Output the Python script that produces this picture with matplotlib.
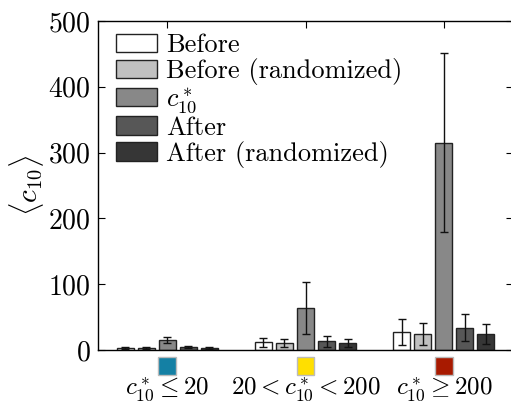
import numpy as np
import matplotlib
matplotlib.use("Agg")
import matplotlib.pyplot as plt
from matplotlib.patches import Rectangle

plt.rcParams['font.family'] = 'serif'
plt.rcParams['font.serif'] = ['cmr10']
plt.rcParams['mathtext.fontset'] = 'cm'
plt.rcParams['axes.formatter.use_mathtext'] = True

groups = [r'$c^*_{10} \leq 20$', r'$20 < c^*_{10} < 200$', r'$c^*_{10} \geq 200$']
group_colors = ['#1480a4', '#ffdf00', '#a81a00']
series = ['Before', 'Before (randomized)', r'$c^*_{10}$', 'After', 'After (randomized)']
series_colors = ['#ffffff', '#c0c0c0', '#888888', '#575757', '#363636']

before = [3, 11.5, 27]
before_err = [1.5, 7, 19.5]
before_rand = [3, 10.5, 24]
before_rand_err = [1.5, 6, 17]
cstar = [15, 64, 315]
cstar_err = [4, 40, 136]
after = [4, 13, 34]
after_err = [1.5, 8, 20]
after_rand = [3, 11, 24]
after_rand_err = [1.5, 6, 15]

vals = [before, before_rand, cstar, after, after_rand]
errs = [before_err, before_rand_err, cstar_err, after_err, after_rand_err]

fig = plt.figure(figsize=(5.11, 4.05), dpi=100)
ax = fig.add_axes([98/511, 1-350/405, (513-98)/511, (350-21)/405])

x = np.arange(1, len(groups)+1)
pitch = 0.152
width = 0.123
for i, (v, e, c, lab) in enumerate(zip(vals, errs, series_colors, series)):
    xs = x + (i-2)*pitch
    ax.bar(xs, v, width, color=c, edgecolor='#222222', linewidth=1.0, label=lab, zorder=2)
    ax.errorbar(xs, v, yerr=e, fmt='none', ecolor='#111111', elinewidth=1.0,
                capsize=3, capthick=1.0, zorder=3)

ax.set_xlim(0.5, 3.5)
ax.set_ylim(0, 500)
ax.set_yticks([0, 100, 200, 300, 400, 500])
ax.set_xticks(x)
ax.set_xticklabels([])
ax.tick_params(axis='both', direction='in', top=True, right=True, length=5, width=0.8,
               labelsize=20, pad=5)
ax.tick_params(axis='x', bottom=False)
for sp in ax.spines.values():
    sp.set_linewidth(1.0)
ax.set_ylabel(r'$\langle c_{10} \rangle$', fontsize=21, labelpad=2)

# colored squares and labels below
for xi, col, lab in zip(x, group_colors, groups):
    ax.add_patch(Rectangle((xi-0.065, -0.075), 0.13, 0.055, transform=ax.get_xaxis_transform(),
                           facecolor=col, edgecolor='#bbbbbb', linewidth=1.0, clip_on=False))
    ax.text(xi, -0.12, lab, transform=ax.get_xaxis_transform(), ha='center', va='center',
            fontsize=18)

leg = ax.legend(loc='upper left', frameon=False, fontsize=19, handlelength=1.55,
                handleheight=0.72, labelspacing=0.04, handletextpad=0.35,
                borderaxespad=0.0, borderpad=0.0, bbox_to_anchor=(0.043, 0.962))

fig.savefig('out.png', dpi=100)
